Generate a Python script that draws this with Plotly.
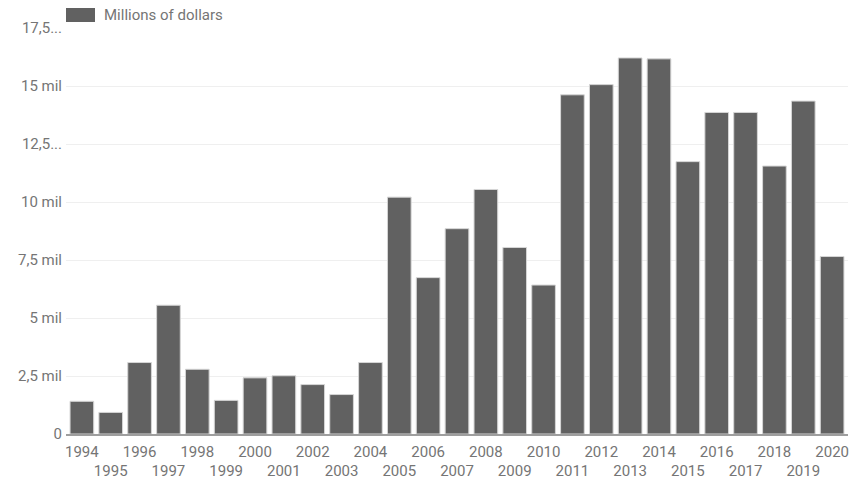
import plotly.graph_objects as go

years = list(range(1994, 2021))
values = [1.41, 0.93, 3.08, 5.55, 2.79, 1.45, 2.42, 2.51, 2.13, 1.70, 3.08,
          10.21, 6.74, 8.85, 10.54, 8.04, 6.42, 14.62, 15.06, 16.21, 16.17,
          11.74, 13.86, 13.86, 11.55, 14.35, 7.65]
series_name = "Millions of dollars"

y_ticks = [0, 2.5, 5, 7.5, 10, 12.5, 15, 17.5]
y_labels = ["0", "2,5 mil", "5 mil", "7,5 mil", "10 mil", "12,5...", "15 mil", "17,5..."]

# odd years drop to a second row so the labels don't collide
x_labels = [str(y) if y % 2 == 0 else "<br>" + str(y) for y in years]

BAR_COLOR = "#616161"
TEXT_COLOR = "#757575"
FONT_SIZE = 15

fig = go.Figure(go.Bar(
    x=years, y=values, name=series_name,
    marker=dict(color=BAR_COLOR, line=dict(color="#d6d6d6", width=1)),
    showlegend=False,
))

# legend key: wide swatch plus label above the plot's top-left corner
fig.add_shape(type="rect", xref="paper", yref="paper",
              xsizemode="pixel", ysizemode="pixel",
              xanchor=0, yanchor=1, x0=0, x1=29, y0=6, y1=20,
              fillcolor=BAR_COLOR, line=dict(width=0))
fig.add_annotation(text=series_name, xref="paper", yref="paper",
                   x=0, y=1, xshift=36, yshift=13,
                   xanchor="left", yanchor="middle", showarrow=False,
                   font=dict(size=FONT_SIZE, color=TEXT_COLOR))

fig.update_layout(
    width=867, height=482,
    margin=dict(l=66, r=19, t=28, b=48, autoexpand=False),
    paper_bgcolor="white", plot_bgcolor="white",
    font=dict(family="Roboto", size=FONT_SIZE, color=TEXT_COLOR),
    bargap=0.18,
    xaxis=dict(tickmode="array", tickvals=years, ticktext=x_labels,
               tickangle=0, automargin=False, ticklabelstandoff=3,
               showgrid=False, showline=True, linecolor="#9e9e9e", linewidth=1.5,
               ticks="", range=[1993.45, 2020.55], tickfont=dict(size=FONT_SIZE)),
    yaxis=dict(tickmode="array", tickvals=y_ticks, ticktext=y_labels,
               automargin=False,
               range=[0, 17.5], showgrid=True, gridcolor="#efefef", gridwidth=1,
               zeroline=False, ticks="", ticklabelstandoff=3,
               tickfont=dict(size=FONT_SIZE)),
)

fig.write_html("out.html")
